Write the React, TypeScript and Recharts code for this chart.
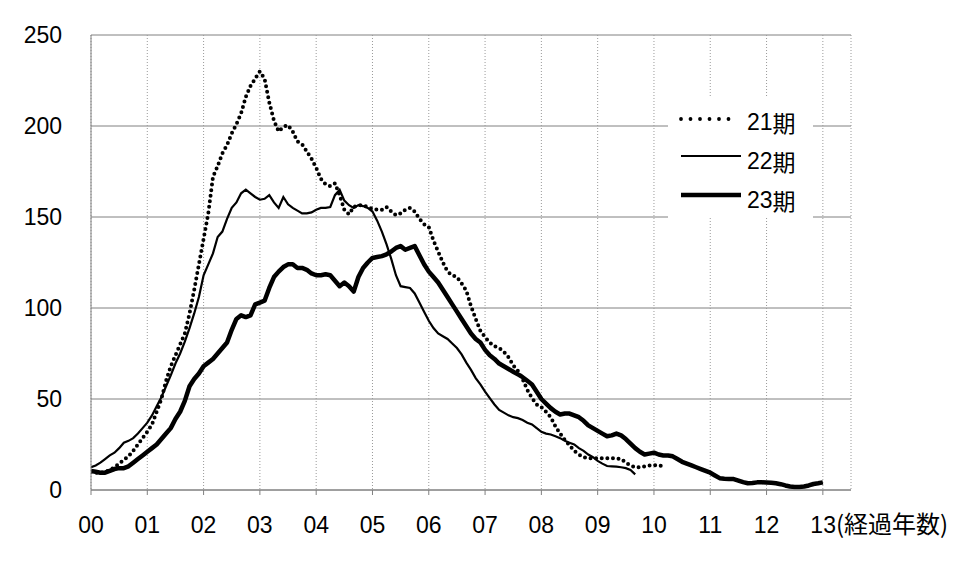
import React from 'react';
import { LineChart, Line, XAxis, YAxis, CartesianGrid, Legend } from 'recharts';

// elapsed years (x ticks) and their labels
const xTicks = [0, 1, 2, 3, 4, 5, 6, 7, 8, 9, 10, 11, 12, 13];
const xTickLabels = ['00', '01', '02', '03', '04', '05', '06', '07', '08', '09', '10', '11', '12', '13'];
const xUnitLabel = '(経過年数)';
const yTicks = [0, 50, 100, 150, 200, 250];
const seriesNames = ['21期', '22期', '23期'];

// monthly values (index / 12 = elapsed years)
const s21 = [
  10, 9.5, 9.5, 10, 11, 12.5, 14.5, 16.5, 18.5, 21.5, 25, 28.5,
  32, 36, 43, 50, 60, 68, 74, 80, 86, 97, 110, 124,
  138, 152, 172, 178, 185, 189.5, 196, 201, 207, 216, 222, 226,
  230, 226, 213, 203, 197, 199.5, 200.5, 197, 191.5, 190, 186, 182,
  177, 171, 168, 167, 168.5, 162, 154, 151.5, 155.5, 156.5, 156.5, 155.5,
  154.5, 154, 154, 155.5, 153, 151, 152, 154, 155, 153, 149, 146,
  144.5, 137, 131, 125, 120, 118, 117, 113.5, 109.5, 101, 94, 87.5,
  84, 81, 79, 78, 76, 73, 68.5, 65.5, 61, 55, 50.5, 47,
  45.5, 43, 40, 35, 31, 27.5, 24.5, 21.5, 19.5, 18, 17.5, 17.5,
  17.5, 17.4, 17.4, 17.4, 17.4, 17, 15, 13.5, 12.5, 12.5, 13, 13.5,
  13.7, 13.3, 13.5,
];

const s22 = [
  12.5, 13.5, 15, 17, 19, 20.5, 23, 26, 27, 28.5, 31, 34,
  37, 41, 46, 51, 57, 63, 69.5, 75, 81.5, 89, 97, 106,
  118, 124, 130, 139, 142, 149, 155, 158, 163, 165, 163, 161,
  159.5, 160, 162, 158, 155, 161, 157, 155, 153.5, 152, 152, 152.5,
  154, 155, 155, 155.5, 162, 165, 159, 156.5, 155, 156.5, 156, 155,
  153, 148, 142, 135, 127, 118, 112, 111.5, 111, 108, 103, 98,
  93, 89, 86, 84.5, 83, 80.5, 78, 74.5, 70, 66, 61.5, 58,
  54, 50.5, 47, 44, 42.5, 41, 40, 39.5, 38.5, 37, 36, 34,
  32, 31, 30.5, 29.5, 28.5, 27, 26, 25, 23, 21.5, 19.5, 18,
  16, 14.5, 13.2, 13, 12.8, 12.5, 12, 11, 8.6,
];

const s23 = [
  10.5, 10, 9.5, 9.5, 10.5, 11.5, 12, 12, 13, 15, 17, 19,
  21, 23, 25, 28, 31, 34, 39, 43, 49, 57, 61, 64,
  68, 70, 72, 75, 78, 81, 88, 94, 96, 95, 96, 102,
  103, 104, 111, 117, 120, 122.5, 124, 124, 122, 122, 121, 119,
  118, 118, 118.5, 118, 115, 112, 114, 112, 109, 117, 122, 125,
  127.5, 128, 128.5, 129.5, 131, 133, 134, 132, 133, 134, 129, 124,
  120, 117, 114, 110, 106, 102, 98, 94, 90, 86, 83, 81,
  77, 74, 72, 69.5, 68, 66.5, 65, 63.5, 62, 60, 58, 54,
  50, 47.5, 45, 43, 41.5, 42, 42, 41, 40, 38, 35.5, 34,
  32.5, 31, 29.5, 30, 31, 30, 28, 25.5, 23, 21, 19.5, 20,
  20.5, 19.5, 19, 19, 18.5, 17, 15.5, 14.5, 13.5, 12.5, 11.5, 10.5,
  9.5, 8, 6.5, 6.2, 6, 6, 5.2, 4.3, 3.7, 3.8, 4.2, 4.2,
  4.1, 4, 3.7, 3.2, 2.5, 1.9, 1.7, 1.7, 1.9, 2.5, 3.3, 3.7,
  4.2,
];

const toPoints = (arr: number[]) => arr.map((v, i) => ({ t: i / 12, v }));
const data21 = toPoints(s21);
const data22 = toPoints(s22);
const data23 = toPoints(s23);

const FONT = '"Liberation Sans", Arial, sans-serif';
const CJK = '"Noto Sans CJK JP", sans-serif';

const XTick = (props: any) => {
  const { x, y, payload, index } = props;
  const label = xTickLabels[index] ?? String(payload.value);
  const last = index === xTicks.length - 1;
  if (last) {
    return (
      <text x={x - 12.5} y={y} dy="0.71em" textAnchor="start" fontFamily={FONT} fontSize={23} fill="#000">
        {label}
        <tspan fontFamily={CJK} fontSize={24}>{xUnitLabel}</tspan>
      </text>
    );
  }
  return (
    <text x={x} y={y} dy="0.71em" textAnchor="middle" fontFamily={FONT} fontSize={23} fill="#000">
      {label}
    </text>
  );
};

const LegendBox = () => (
  <svg width={145} height={120} style={{ overflow: 'visible', display: 'block' }}>
    <line x1={13} y1={21} x2={70} y2={21} stroke="#000" strokeWidth={3.8} strokeLinecap="round" strokeDasharray="0 9.5" />
    <line x1={13} y1={58} x2={73} y2={58} stroke="#000" strokeWidth={2.2} />
    <line x1={13} y1={97} x2={73} y2={97} stroke="#000" strokeWidth={4.5} />
    {seriesNames.map((n, i) => (
      <text key={n} x={79} y={24 + i * 39} dominantBaseline="central" fontFamily={FONT} fontSize={23} fill="#000">
        {n.slice(0, 2)}
        <tspan fontFamily={CJK} fontSize={23}>{n.slice(2)}</tspan>
      </text>
    ))}
  </svg>
);

export default function App() {
  return (
    <div style={{ position: 'absolute', left: 0, top: 0, width: 978, height: 575, background: '#fff' }}>
      <LineChart width={978} height={575} margin={{ top: 35, right: 127, bottom: 55, left: 31 }}>
        <CartesianGrid horizontal={true} vertical={false} stroke="#808080" strokeWidth={1} />
        <CartesianGrid horizontal={false} vertical={true} stroke="#9a9a9a" strokeDasharray="1 2" />
        <XAxis
          type="number"
          dataKey="t"
          domain={[0, 13.5]}
          ticks={xTicks}
          interval={0}
          height={30}
          stroke="#808080"
          tickSize={5}
          tickMargin={22}
          tick={<XTick />}
          allowDataOverflow
        />
        <YAxis
          type="number"
          domain={[0, 250]}
          ticks={yTicks}
          interval={0}
          width={60}
          stroke="#808080"
          tickLine={false}
          tickSize={0}
          tickMargin={29}
          tick={{ fontSize: 23, fill: '#000', fontFamily: FONT }}
        />
        <Legend
          layout="vertical"
          align="center"
          verticalAlign="middle"
          content={<LegendBox />}
          wrapperStyle={{ position: 'absolute', left: 668, top: 98, width: 145, height: 120, background: '#fff' }}
        />
        <Line data={data21} dataKey="v" name={seriesNames[0]} type="linear" stroke="#000" strokeWidth={4}
          strokeLinecap="round" strokeDasharray="0 5.6" dot={false} isAnimationActive={false} />
        <Line data={data22} dataKey="v" name={seriesNames[1]} type="linear" stroke="#000" strokeWidth={2.2}
          dot={false} isAnimationActive={false} />
        <Line data={data23} dataKey="v" name={seriesNames[2]} type="linear" stroke="#000" strokeWidth={4.5}
          strokeLinejoin="round" dot={false} isAnimationActive={false} />
      </LineChart>
    </div>
  );
}
